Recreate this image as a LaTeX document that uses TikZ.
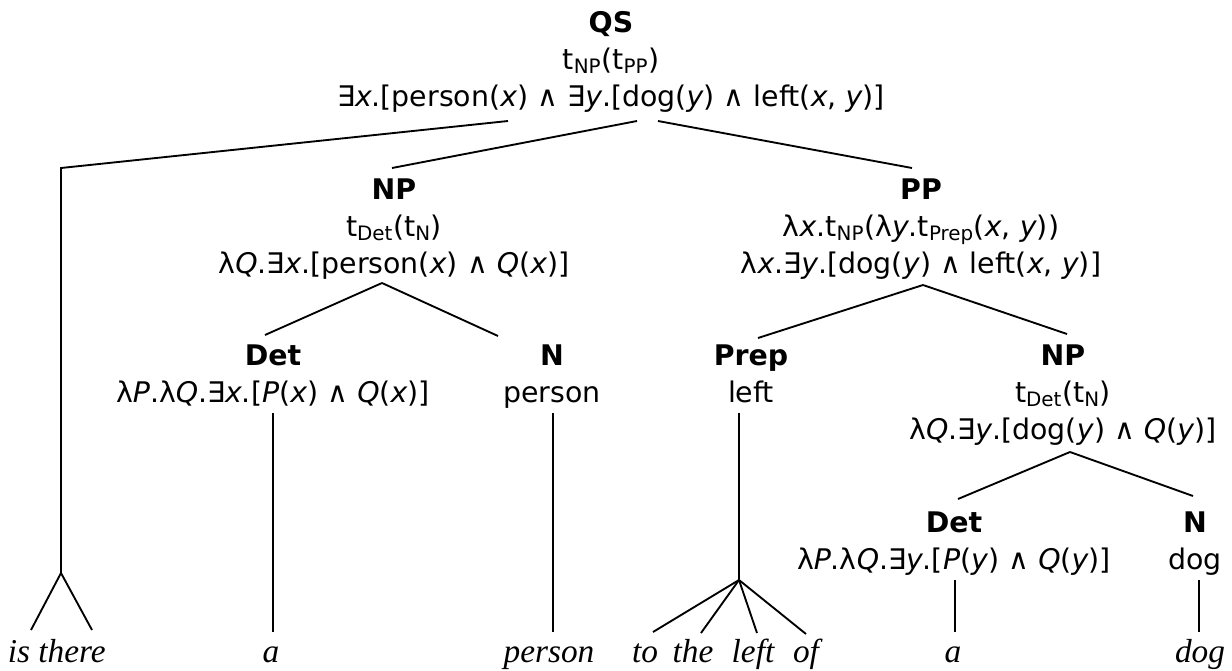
\documentclass[tikz,border=0pt]{standalone}
\usepackage{fontspec}
\setmainfont{DejaVu Sans}
\newfontfamily\leaffont{Liberation Serif}
\newcommand{\sbs}[1]{\textsubscript{#1}}
\newcommand{\lns}[1]{\begin{tabular}[t]{@{}c@{}}#1\end{tabular}}
\renewcommand{\arraystretch}{1}
\begin{document}
\begin{tikzpicture}[x=0.75pt,y=-0.75pt,
  tn/.style={anchor=base,inner sep=0pt,font=\fontsize{21.3}{27.75}\selectfont},
  lf/.style={anchor=base,inner sep=0pt,font=\fontsize{25}{30}\selectfont\leaffont\itshape},
  br/.style={line width=1.4pt,line join=miter}]
\fill[white] (0,0) rectangle (1232,671);
\useasboundingbox (0,0) rectangle (1232,671);
% tree nodes
\node[tn] (qs) at (611,32) {\lns{\textbf{QS}\\ t\sbs{NP}(t\sbs{PP})\\ ∃\textit{x}.[person(\textit{x}) ∧ ∃\textit{y}.[dog(\textit{y}) ∧ left(\textit{x}, \textit{y})]}};
\node[tn] (np1) at (394,199) {\lns{\textbf{NP}\\ t\sbs{Det}(t\sbs{N})\\ λ\textit{Q}.∃\textit{x}.[person(\textit{x}) ∧ \textit{Q}(\textit{x})]}};
\node[tn] (pp) at (921,199) {\lns{\textbf{PP}\\ λ\textit{x}.t\sbs{NP}(λ\textit{y}.t\sbs{Prep}(\textit{x}, \textit{y}))\\ λ\textit{x}.∃\textit{y}.[dog(\textit{y}) ∧ left(\textit{x}, \textit{y})]}};
\node[tn] (det1) at (273,365) {\lns{\textbf{Det}\\ λ\textit{P}.λ\textit{Q}.∃\textit{x}.[\textit{P}(\textit{x}) ∧ \textit{Q}(\textit{x})]}};
\node[tn] (n1) at (552,365) {\lns{\textbf{N}\\ person}};
\node[tn] (prep) at (751,365) {\lns{\textbf{Prep}\\ left}};
\node[tn] (np2) at (1063,365) {\lns{\textbf{NP}\\ t\sbs{Det}(t\sbs{N})\\ λ\textit{Q}.∃\textit{y}.[dog(\textit{y}) ∧ \textit{Q}(\textit{y})]}};
\node[tn] (det2) at (954,532) {\lns{\textbf{Det}\\ λ\textit{P}.λ\textit{Q}.∃\textit{y}.[\textit{P}(\textit{y}) ∧ \textit{Q}(\textit{y})]}};
\node[tn] (n2) at (1195,532) {\lns{\textbf{N}\\ dog}};
% leaves
\node[lf] (is) at (19,662) {is};
\node[lf] (there) at (72,662) {there};
\node[lf] (a1) at (271,662) {a};
\node[lf] (person) at (549,662) {person};
\node[lf] (to) at (645,662) {to};
\node[lf] (the) at (693,662) {the};
\node[lf] (left) at (753,662) {left};
\node[lf] (of) at (806,662) {of};
\node[lf] (a2) at (953,662) {a};
\node[lf] (dog) at (1200,662) {dog};
% connector points
\coordinate (qsL) at (508,121);
\coordinate (qsM) at (637,121);
\coordinate (qsR) at (658,121);
\coordinate (corner) at (61,168);
\coordinate (fork1) at (61,573);
\coordinate (isT) at (31,630);
\coordinate (thereT) at (92,630);
\coordinate (np1T) at (392,168);
\coordinate (ppT) at (912,168);
\coordinate (np1B) at (382,283);
\coordinate (det1T) at (265,335);
\coordinate (n1T) at (498,336);
\coordinate (ppB) at (923,285);
\coordinate (prepT) at (758,338);
\coordinate (np2T) at (1067,334);
\coordinate (det1B) at (273,413);
\coordinate (a1T) at (273,632);
\coordinate (n1B) at (553,413);
\coordinate (personT) at (553,632);
\coordinate (prepB) at (739,413);
\coordinate (fork2) at (739,580);
\coordinate (toT) at (653,632);
\coordinate (theT) at (701,633);
\coordinate (leftT) at (757,633);
\coordinate (ofT) at (806,634);
\coordinate (np2B) at (1070,452);
\coordinate (det2T) at (958,499);
\coordinate (n2T) at (1193,496);
\coordinate (det2B) at (955,580);
\coordinate (a2T) at (955,632);
\coordinate (n2B) at (1199,580);
\coordinate (dogT) at (1199,632);
% connectors
\draw[br] (qsL) -- (corner) -- (fork1);
\draw[br] (fork1) -- (isT);
\draw[br] (fork1) -- (thereT);
\draw[br] (qsM) -- (np1T);
\draw[br] (qsR) -- (ppT);
\draw[br] (np1B) -- (det1T);
\draw[br] (np1B) -- (n1T);
\draw[br] (ppB) -- (prepT);
\draw[br] (ppB) -- (np2T);
\draw[br] (det1B) -- (a1T);
\draw[br] (n1B) -- (personT);
\draw[br] (prepB) -- (fork2);
\draw[br] (fork2) -- (toT);
\draw[br] (fork2) -- (theT);
\draw[br] (fork2) -- (leftT);
\draw[br] (fork2) -- (ofT);
\draw[br] (np2B) -- (det2T);
\draw[br] (np2B) -- (n2T);
\draw[br] (det2B) -- (a2T);
\draw[br] (n2B) -- (dogT);
\end{tikzpicture}
\end{document}
